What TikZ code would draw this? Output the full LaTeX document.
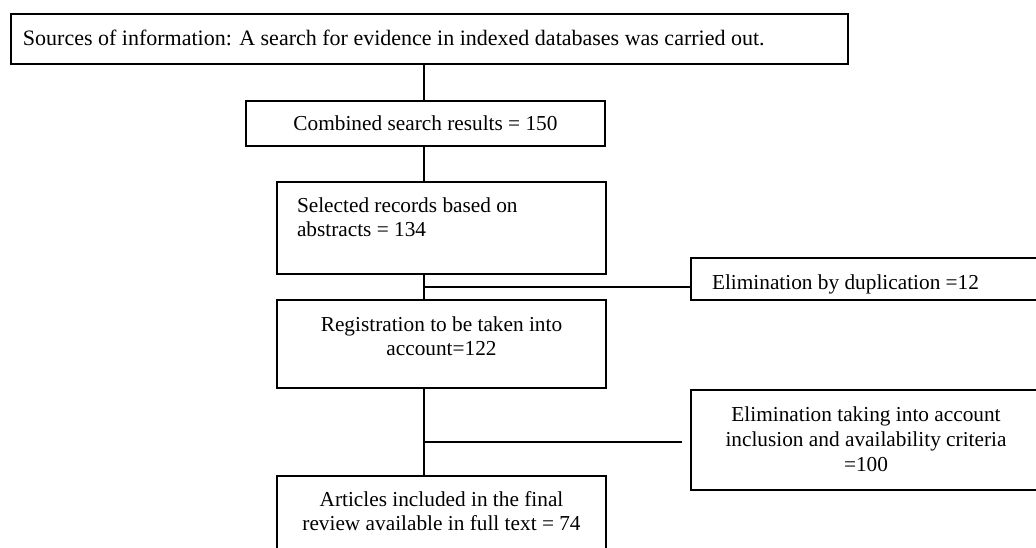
\documentclass[tikz,border=0pt]{standalone}
\usepackage{fontspec}
\setmainfont{Liberation Serif}
\usetikzlibrary{calc}
% multi-line text whose reference point is the first baseline
\newcommand\leftlines[1]{\begin{tabular}[t]{@{}l@{}}#1\end{tabular}}
\newcommand\midlines[1]{\begin{tabular}[t]{@{}c@{}}#1\end{tabular}}
\begin{document}
\begin{tikzpicture}[x=1pt, y=-1pt,
  box/.style={draw, line width=2pt, inner sep=0pt, outer sep=0pt},
  words/.style={font=\fontsize{21.3}{24.8}\selectfont, inner sep=0pt, outer sep=0pt},
  link/.style={line width=1.6pt}]
\useasboundingbox (0,0) rectangle (1036,547);
\fill[white] (0,0) rectangle (1036,547);
\clip (0,0) rectangle (1036,547);

% boxes
\node[box, minimum width=837pt, minimum height=50pt] (src) at (429.5,39) {};
\node[box, words, minimum width=359pt, minimum height=45pt] (comb) at (425.5,123.5) {Combined search results = 150};
\node[box, minimum width=329pt, minimum height=92pt] (sel) at (441.5,228) {};
\node[box, minimum width=329pt, minimum height=88pt] (reg) at (441.5,344) {};
\node[box, minimum width=329pt, minimum height=94pt] (art) at (441.5,523) {};
\node[box, minimum width=359pt, minimum height=42pt] (dup) at (870.5,279) {};
\node[box, minimum width=350pt, minimum height=100pt] (elim) at (866,440) {};

% box texts
\node[words, font=\fontsize{22}{25}\selectfont, anchor=base west] (srcT) at (23,45) {Sources of information: A search for evidence in indexed databases was carried out.};
\node[words, anchor=base west] (selT) at (297,212) {\leftlines{Selected records based on\\abstracts = 134}};
\node[words, anchor=base] (regT) at (441.5,331) {\midlines{Registration to be taken into\\account=122}};
\node[words, anchor=base] (artT) at (441.5,506) {\midlines{Articles included in the final\\review available in full text = 74}};
\node[words, anchor=base west] (dupT) at (712,289) {Elimination by duplication =12};
\node[words, anchor=base] (elimT) at (866,421.5) {\midlines{Elimination taking into account\\inclusion and availability criteria\\=100}};

% main flow line and side branches
\coordinate (spine) at (424,0);
\coordinate (j1) at (424,287);
\coordinate (j2) at (424,442);
\coordinate (j2end) at (682,442);
\draw[link] (src.south -| spine) -- (comb.north -| spine);
\draw[link] (comb.south -| spine) -- (sel.north -| spine);
\draw[link] (sel.south -| spine) -- (reg.north -| spine);
\draw[link] (reg.south -| spine) -- (art.north -| spine);
\draw[link] (j1) -- (j1 -| dup.west);
\draw[link] (j2) -- (j2end);
\end{tikzpicture}
\end{document}
